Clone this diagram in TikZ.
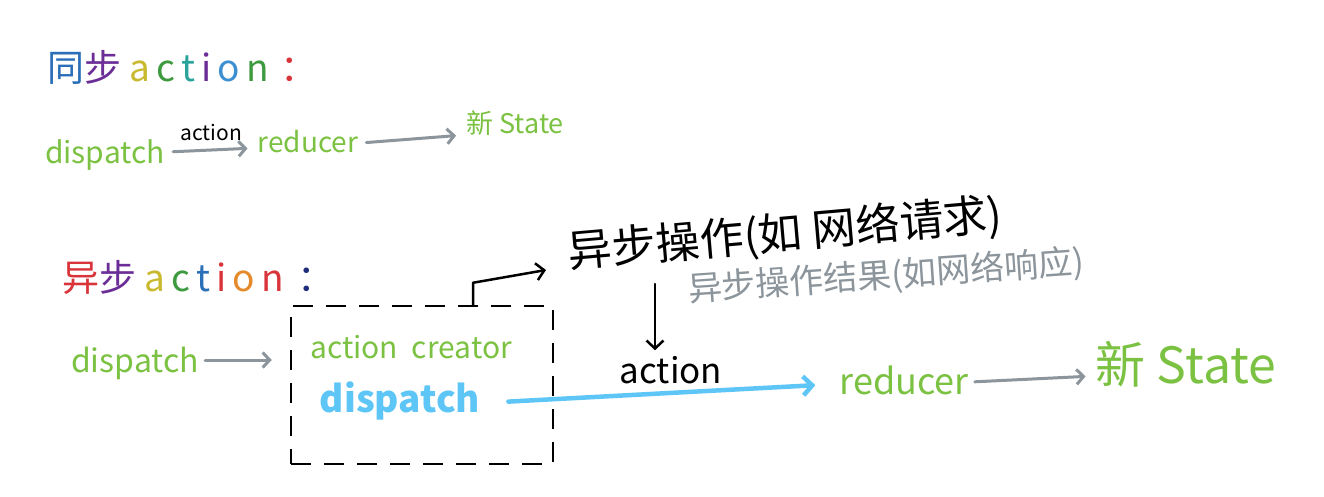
\documentclass[tikz,border=0pt]{standalone}
\usepackage{fontspec}
\setmainfont{Noto Sans CJK SC}
\usetikzlibrary{arrows.meta}
\definecolor{leaf}{HTML}{7CC242}
\definecolor{sky}{HTML}{5EC6F6}
\definecolor{slate}{HTML}{8C959B}
\definecolor{rbA}{HTML}{2A6FB8}
\definecolor{rbB}{HTML}{1F2E7A}
\definecolor{rbC}{HTML}{2AA39A}
\definecolor{rbD}{HTML}{E58A2B}
\definecolor{rbE}{HTML}{6B2E96}
\definecolor{rbF}{HTML}{3D9A3E}
\definecolor{rbG}{HTML}{C9B92E}
\definecolor{rbH}{HTML}{D9343A}
\definecolor{rbI}{HTML}{3C8FD0}
\newcommand{\fs}[1]{\fontsize{#1}{#1}\selectfont}
\tikzset{
  lbl/.style={inner sep=2pt, text depth=0pt},
  greenlbl/.style={lbl, text=leaf},
  flow/.style={draw=slate, line width=3pt, line cap=round,
    -{Straight Barb[length=7pt,width=15pt,line width=3pt]}},
  blackflow/.style={draw=black, line width=2.5pt, line cap=round, line join=round,
    -{Straight Barb[length=8pt,width=17pt,line width=2.5pt]}},
  blueflow/.style={draw=sky, line width=4.5pt, line cap=round,
    -{Straight Barb[length=9pt,width=19pt,line width=4.5pt]}},
  groupbox/.style={draw=black, line width=2.5pt, dash pattern=on 20pt off 13pt,
    minimum width=262pt, minimum height=158pt, inner sep=0pt}
}
\begin{document}
\begin{tikzpicture}[x=1pt,y=-1pt]
\path[use as bounding box, fill=white] (0,0) rectangle (1324,496);

% ---- synchronous action ----
\node[lbl, anchor=west] (syncT) at (45,66) {\fs{37}%
  {\color{rbA}同}{\color{rbE}步}\hspace{8pt}%
  {\color{rbG}a}\,{\color{rbF}c}\,{\color{rbC}t}\,{\color{rbE}i}\,{\color{rbI}o}\,{\color{rbF}n}\hspace{12pt}{\color{rbH}：}};

\node[greenlbl] (d1) at (105,152) {\fs{30}dispatch};
\node[greenlbl] (r1) at (308,141) {\fs{28}reducer};
\node[greenlbl] (s1) at (515,122) {\fs{27}新 State};
\draw[flow, shorten <=6pt, shorten >=8pt] (d1.east) -- ([yshift=4pt]d1.east -| r1.west)
  node[midway, above=6pt, text=black, lbl] (a1) {\fs{21}action};
\draw[flow, shorten <=6pt, shorten >=8pt] ([yshift=-2pt]r1.east) -- ([yshift=6pt]r1.east -| s1.west);

% ---- asynchronous action ----
\node[lbl, anchor=west] (asyncT) at (60,276) {\fs{37}%
  {\color{rbH}异}{\color{rbE}步}\hspace{8pt}%
  {\color{rbG}a}\,{\color{rbF}c}\,{\color{rbA}t}\,{\color{rbH}i}\,{\color{rbD}o}\,{\color{rbH}n}\hspace{14pt}{\color{rbB}：}};

\node[greenlbl] (d2) at (135,360) {\fs{32}dispatch};
\node[groupbox] (box) at (422,385) {};
\node[greenlbl] (ac) at (411,347) {\fs{30}action\hspace{14pt}creator};
\node[lbl, text=sky] (db) at (400,397) {\fs{37}\bfseries dispatch};
\draw[flow, shorten <=4pt, shorten >=18pt] (d2.east) -- (d2.east -| box.west);

\node[lbl, rotate=5] (async) at (785,230) {\fs{44}异步操作(如 网络请求)};
\node[lbl, rotate=4, text=slate] (res) at (886,273) {\fs{34}异步操作结果(如网络响应)};
\node[lbl] (act) at (671,370) {\fs{35}action};
\node[greenlbl] (r2) at (904,380) {\fs{36}reducer};
\node[greenlbl] (s2) at (1186,362) {\fs{50}新 State};

% box top -> async operation
\coordinate (up) at ([xshift=51pt]box.north);
\coordinate (opTip) at (546,270);
\draw[blackflow] (up) -- ++(0,-22) -- (opTip);
% async result -> action
\coordinate (rs) at (655,284);
\draw[blackflow, shorten >=4pt] (rs) -- (act.north -| rs);
% dispatch -> reducer
\draw[blueflow, shorten <=26pt, shorten >=22pt] ([yshift=-6pt]db.east) -- ([yshift=-4pt]r2.west);
\draw[flow, shorten <=4pt, shorten >=8pt] ([yshift=-2pt]r2.east) -- ([yshift=4pt]r2.east -| s2.west);
\end{tikzpicture}
\end{document}
